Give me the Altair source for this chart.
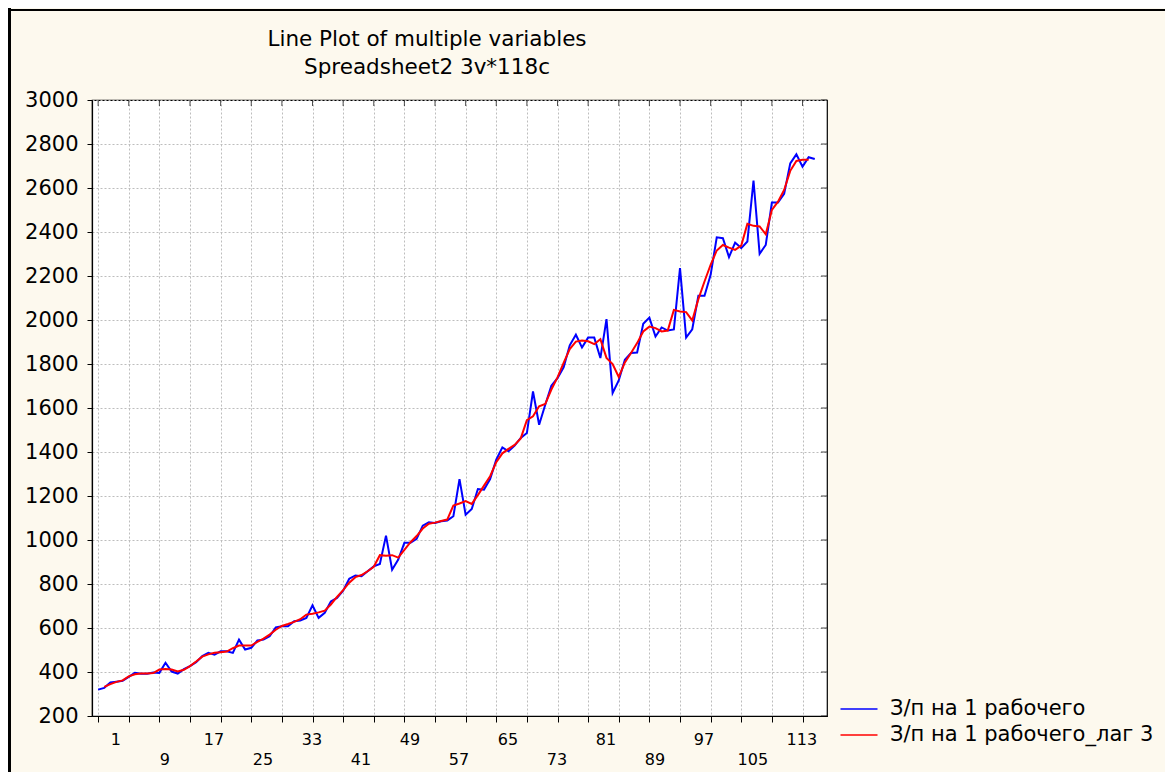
import altair as alt
import pandas as pd

# ---------------- data ----------------
S1 = "З/п на 1 рабочего"
S2 = "З/п на 1 рабочего_лаг 3"
TITLE_LINES = ["Line Plot of multiple variables", "Spreadsheet2 3v*118c"]

case_index = list(range(1, 119))
blue_values = [
    320, 328, 352, 356, 360, 378, 396, 392, 392, 398,
    396, 442, 402, 393, 413, 427, 445, 472, 487, 479,
    494, 494, 487, 547, 502, 510, 543, 547, 562, 603,
    608, 608, 631, 634, 646, 703, 646, 669, 721, 737,
    770, 824, 839, 835, 858, 880, 891, 1020, 865, 911,
    987, 987, 1005, 1065, 1080, 1077, 1085, 1089, 1108, 1277,
    1115, 1141, 1232, 1229, 1277, 1365, 1421, 1403, 1429, 1464,
    1486, 1675, 1524, 1615, 1701, 1736, 1785, 1885, 1933, 1875,
    1920, 1920, 1827, 2004, 1668, 1725, 1819, 1850, 1852, 1983,
    2011, 1925, 1966, 1952, 1957, 2236, 1920, 1958, 2110, 2110,
    2205, 2376, 2372, 2286, 2352, 2327, 2357, 2634, 2301, 2341,
    2534, 2534, 2573, 2712, 2753, 2697, 2740, 2732,
]

red_index = list(range(2, 118))
red_values = [
    332, 345, 355, 362, 380, 390, 393, 393, 395,
    411, 414, 411, 402, 410, 427, 448, 470, 480, 487,
    490, 493, 508, 520, 521, 520, 537, 552, 570, 592,
    609, 618, 628, 640, 661, 665, 671, 679, 707, 741,
    772, 806, 831, 841, 858, 878, 931, 928, 931, 920,
    955, 990, 1018, 1052, 1074, 1079, 1086, 1093, 1157, 1166,
    1177, 1164, 1204, 1247, 1290, 1354, 1394, 1414, 1432, 1462,
    1545, 1562, 1608, 1618, 1684, 1739, 1805, 1868, 1902, 1907,
    1903, 1890, 1913, 1828, 1800, 1741, 1807, 1850, 1895, 1948,
    1970, 1963, 1948, 1952, 2046, 2039, 2036, 1998, 2095, 2175,
    2251, 2316, 2341, 2329, 2319, 2338, 2437, 2428, 2425, 2390,
    2500, 2538, 2591, 2678, 2723, 2728, 2728,
]

x_grid_ticks = [1, 6, 11, 16, 21, 26, 31, 36, 41, 46, 51, 56, 61, 66, 71, 76,
                81, 86, 91, 96, 101, 106, 111, 116]
y_ticks = [200, 400, 600, 800, 1000, 1200, 1400, 1600, 1800, 2000, 2200,
           2400, 2600, 2800, 3000]
x_labels_top = [1, 17, 33, 49, 65, 81, 97, 113]
x_labels_bottom = [9, 25, 41, 57, 73, 89, 105]

# ---------------- tables ----------------
df = pd.concat([
    pd.DataFrame({"case": case_index, "value": blue_values, "series": S1}),
    pd.DataFrame({"case": red_index, "value": red_values, "series": S2}),
], ignore_index=True)

FONT = "DejaVu Sans"
W, H = 735, 616
PAD = {"left": 84, "top": 92, "right": 338, "bottom": 56}
LABEL_SHIFT = 2.9  # STATISTICA draws case labels offset to the right

x_scale = alt.Scale(domain=[0, 120], nice=False, zero=False)
y_scale = alt.Scale(domain=[200, 3000], nice=False, zero=False)
color_scale = alt.Scale(domain=[S1, S2], range=["#0000ff", "#ff0000"])

x_axis = alt.Axis(values=x_grid_ticks, labels=False, grid=True, ticks=True,
                  tickSize=6, tickColor="black", domainColor="black",
                  domainWidth=1.2, gridColor="#bdbdbd", gridDash=[2, 2],
                  gridWidth=1, title=None)
y_axis = alt.Axis(values=y_ticks, grid=True, ticks=True, tickSize=5,
                  tickColor="black", domainColor="black", domainWidth=1.2,
                  gridColor="#bdbdbd", gridDash=[2, 2], gridWidth=1,
                  labelFont=FONT, labelFontSize=21, labelColor="black",
                  labelPadding=9, format="d", title=None)

legend = alt.Legend(orient="none", legendX=756, legendY=598, title=None,
                    symbolType="M-1.85,0H1.85", symbolSize=400,
                    symbolStrokeWidth=1.5, labelFont=FONT, labelFontSize=21,
                    labelColor="black", labelOffset=20, rowPadding=5,
                    labelLimit=0, padding=0)

base = alt.Chart(df)
enc = dict(
    x=alt.X("case:Q", scale=x_scale, axis=x_axis),
    y=alt.Y("value:Q", scale=y_scale, axis=y_axis),
    color=alt.Color("series:N", scale=color_scale, legend=legend),
)
blue_line = base.transform_filter(alt.datum.series == S1).mark_line(
    strokeWidth=2).encode(**enc)
red_line = base.transform_filter(alt.datum.series == S2).mark_line(
    strokeWidth=2).encode(**enc)

# inward ticks on the top and right frame
top_ticks = alt.Chart(pd.DataFrame({"t": x_grid_ticks})).mark_tick(
    size=6, thickness=1, color="black").encode(
    x=alt.X("t:Q", scale=x_scale, axis=x_axis), y=alt.value(3))
right_ticks = alt.Chart(pd.DataFrame({"v": y_ticks})).mark_tick(
    size=6, thickness=1, color="black").encode(
    y=alt.Y("v:Q", scale=y_scale, axis=y_axis), x=alt.value(W - 3))

# case-number labels in two staggered rows
lab_top = alt.Chart(pd.DataFrame({"k": x_labels_top})).transform_calculate(
    pos=f"datum.k + {LABEL_SHIFT}").mark_text(
    font=FONT, fontSize=16, color="black", baseline="middle").encode(
    x=alt.X("pos:Q", scale=x_scale, axis=x_axis), y=alt.value(H + 24),
    text="k:Q")
lab_bot = alt.Chart(pd.DataFrame({"k": x_labels_bottom})).transform_calculate(
    pos=f"datum.k + {LABEL_SHIFT}").mark_text(
    font=FONT, fontSize=16, color="black", baseline="middle").encode(
    x=alt.X("pos:Q", scale=x_scale, axis=x_axis), y=alt.value(H + 44),
    text="k:Q")

# two-line chart title
title_1 = alt.Chart(alt.Data(values=[{"t": TITLE_LINES[0]}])).mark_text(
    font=FONT, fontSize=21.5, color="black", baseline="middle",
    align="center").encode(x=alt.value(335), y=alt.value(-60), text="t:N")
title_2 = alt.Chart(alt.Data(values=[{"t": TITLE_LINES[1]}])).mark_text(
    font=FONT, fontSize=21.5, color="black", baseline="middle",
    align="center").encode(x=alt.value(335), y=alt.value(-32), text="t:N")

# outer frame of the graph window (top and left edges)
frame_top = alt.Chart(alt.Data(values=[{}])).mark_rule(
    color="black", strokeWidth=2).encode(
    x=alt.value(-PAD["left"]), x2=alt.value(W + PAD["right"]),
    y=alt.value(-PAD["top"] + 2))
frame_left = alt.Chart(alt.Data(values=[{}])).mark_rule(
    color="black", strokeWidth=3).encode(
    x=alt.value(-PAD["left"] + 1.5), y=alt.value(-PAD["top"]),
    y2=alt.value(H + PAD["bottom"]))

chart = alt.layer(
    blue_line, red_line, top_ticks, right_ticks, lab_top, lab_bot,
    title_1, title_2, frame_top, frame_left,
).properties(
    width=W, height=H,
    padding=PAD,
    autosize=alt.AutoSizeParams(type="none"),
    background="#fdf9ee",
).configure(
    font=FONT
).configure_view(
    stroke="black", strokeWidth=1.2, fill="white"
)

chart.save("out.html", embed_options={"renderer": "svg", "actions": False})
